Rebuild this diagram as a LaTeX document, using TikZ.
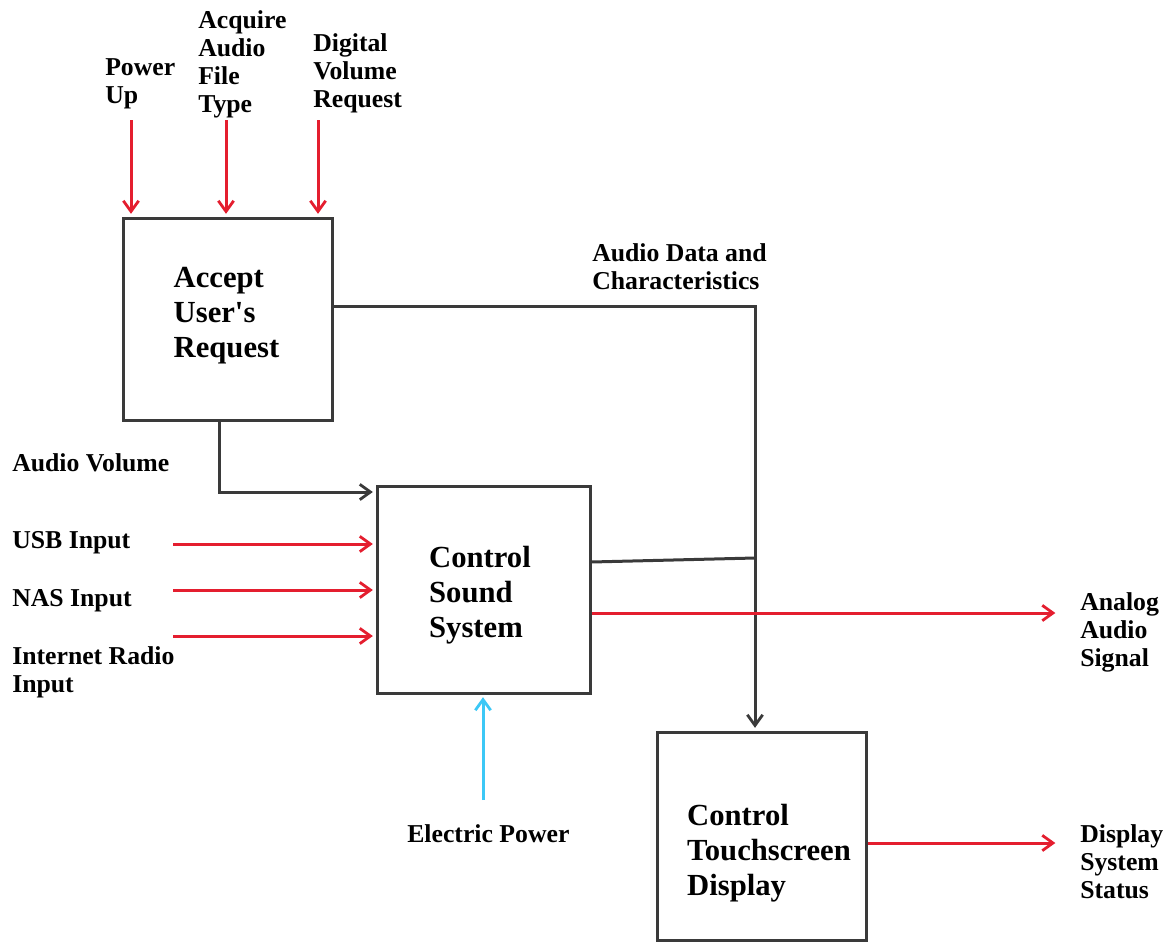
\documentclass[tikz,border=0pt]{standalone}
\usepackage{fontspec}
\setmainfont{Liberation Serif}
\usetikzlibrary{arrows.meta}
\definecolor{arrred}{HTML}{E41E2F}
\definecolor{arrcyan}{HTML}{3CC8F6}
\definecolor{linegray}{HTML}{3A3A3A}
\begin{document}
\begin{tikzpicture}[x=0.75pt,y=-0.75pt,
  box/.style={draw=linegray, line width=2.25pt, inner sep=0pt},
  lab/.style={font=\fontsize{19.3pt}{21pt}\selectfont\bfseries, align=left, anchor=west, inner sep=0pt},
  big/.style={font=\fontsize{23pt}{26.25pt}\selectfont\bfseries, align=left, anchor=center, inner sep=0pt},
  tip/.style={-{Straight Barb[length=8pt,width=11.5pt,line width=2.1pt]}, shorten >=2pt},
  redarrow/.style={draw=arrred, line width=2.25pt, tip},
  cyanarrow/.style={draw=arrcyan, line width=2.25pt, tip},
  grayarrow/.style={draw=linegray, line width=2.25pt, tip},
  grayline/.style={draw=linegray, line width=2.25pt},
]
\useasboundingbox (0,0) rectangle (1174,942);

% boxes
\node[box, minimum width=156.75pt, minimum height=151.5pt] (accept) at (227.5,319) {};
\node[box, minimum width=159.75pt, minimum height=155.25pt] (sound) at (483.5,589.5) {};
\node[box, minimum width=156.75pt, minimum height=156pt] (touch) at (761.5,836) {};

\node[big] (acceptT) at (226.5,316) {Accept\\User\textquotesingle s\\Request};
\node[big] (soundT) at (480,595) {Control\\Sound\\System};
\node[big] (touchT) at (769,853) {Control\\Touchscreen\\Display};

% labels
\node[lab] (lPower) at (105,84) {Power\\Up};
\node[lab] (lAcq) at (198,64) {Acquire\\Audio\\File\\Type};
\node[lab] (lDig) at (313,73) {Digital\\Volume\\Request};
\node[lab] (lData) at (592,267) {Audio Data and\\Characteristics};
\node[lab] (lVol) at (12,463) {Audio Volume};
\node[lab] (lUSB) at (12,543) {USB Input};
\node[lab] (lNAS) at (12,601) {NAS Input};
\node[lab] (lNet) at (12,672) {Internet Radio\\Input};
\node[lab] (lAnalog) at (1080,632) {Analog\\Audio\\Signal};
\node[lab] (lElec) at (407,834) {Electric Power};
\node[lab] (lDisp) at (1080,862) {Display\\System\\Status};

% coordinates
\coordinate (pu) at (131,120);
\coordinate (aq) at (226,120);
\coordinate (dv) at (318,120);
\coordinate (j1) at (755,306);
\coordinate (s1) at (590,562);
\coordinate (j2) at (755,558);
\coordinate (an) at (1058,613);
\coordinate (av) at (219,492);
\coordinate (usb) at (173,544);
\coordinate (nas) at (173,590);
\coordinate (net) at (173,636);
\coordinate (ep) at (483,800);
\coordinate (ds) at (1058,843);

% connectors
\draw[redarrow] (pu) -- (pu |- accept.north);
\draw[redarrow] (aq) -- (aq |- accept.north);
\draw[redarrow] (dv) -- (dv |- accept.north);

\draw[grayarrow] (accept.east |- j1) -- (j1) -- (j1 |- touch.north);
\draw[grayline] (sound.east |- s1) -- (j2);
\draw[redarrow] (sound.east |- an) -- (an);

\draw[grayarrow] (accept.south -| av) -- (av) -- (av -| sound.west);
\draw[redarrow] (usb) -- (usb -| sound.west);
\draw[redarrow] (nas) -- (nas -| sound.west);
\draw[redarrow] (net) -- (net -| sound.west);

\draw[cyanarrow] (ep) -- (ep |- sound.south);
\draw[redarrow] (touch.east |- ds) -- (ds);
\end{tikzpicture}
\end{document}
